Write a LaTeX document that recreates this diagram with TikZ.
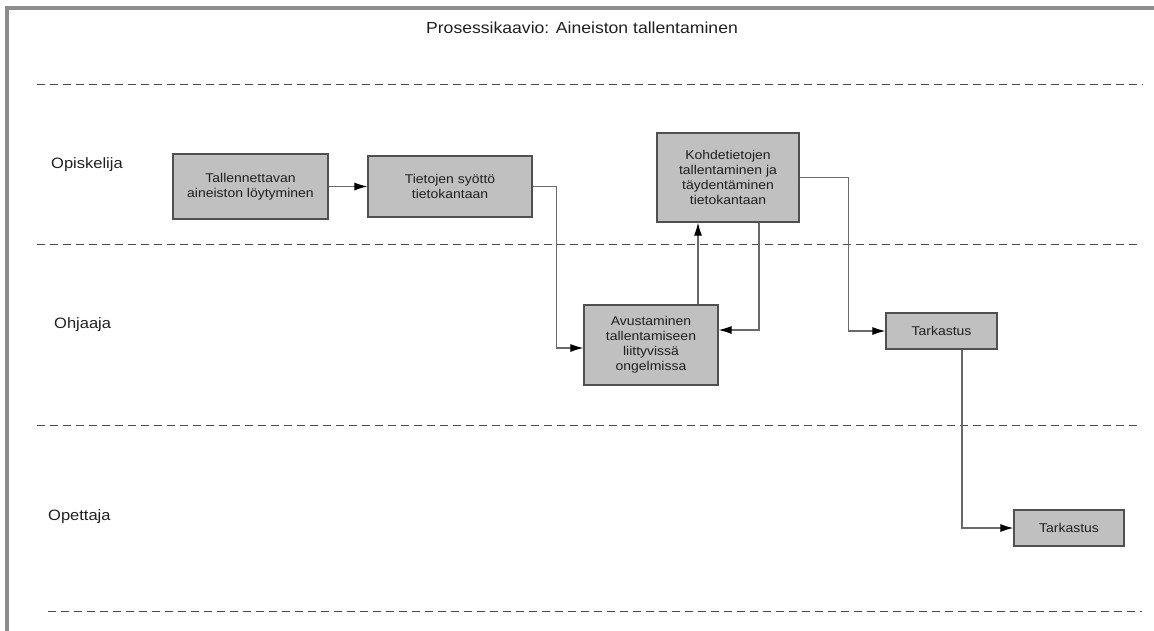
\documentclass[tikz,border=0pt]{standalone}
\usepackage{fontspec}
\setmainfont{Liberation Sans}[FakeStretch=1.1]
\usetikzlibrary{arrows.meta}
\definecolor{boxfill}{HTML}{C0C0C0}
\definecolor{boxline}{HTML}{505050}
\definecolor{wire}{HTML}{6A6A6A}
\definecolor{frame}{HTML}{8C8C8C}
\definecolor{lane}{HTML}{4A4A4A}
\definecolor{ink}{HTML}{202020}
\tikzset{
  stepbox/.style={draw=boxline, fill=boxfill, line width=1.2pt, inner sep=0pt,
    align=center, text=ink, font=\fontsize{12.7}{15}\selectfont},
  lanelabel/.style={anchor=west, inner sep=0pt, text=ink, font=\fontsize{15}{18}\selectfont},
  lanerule/.style={draw=lane, line width=1pt, dash pattern=on 8pt off 5pt},
  wireline/.style={draw=wire, line width=1.1pt,
    -{Latex[length=13pt,width=8pt,fill=black,color=black]}},
}
\begin{document}
\begin{tikzpicture}[x=1pt, y=-1pt]
\useasboundingbox (0,0) rectangle (1154,630);
% outer frame (top and left edge)
\draw[frame, line width=4pt] (7,632) -- (7,8) -- (1156,8);
% title
\node[inner sep=0pt, text=ink, font=\fontsize{16}{19}\selectfont] (title) at (582,28)
  {Prosessikaavio: Aineiston tallentaminen};
% swimlane separators
\draw[lanerule] (37,84) -- (1143,84);
\draw[lanerule] (37,244) -- (1142,244);
\draw[lanerule] (37,425) -- (1142,425);
\draw[lanerule] (48,611) -- (1142,611);
% lane names
\node[lanelabel] (l1) at (51,165) {Opiskelija};
\node[lanelabel] (l2) at (54,325) {Ohjaaja};
\node[lanelabel] (l3) at (48,517) {Opettaja};
% process steps
\node[stepbox, minimum width=155pt, minimum height=65pt] (b1) at (250.5,186.5)
  {Tallennettavan\\aineiston löytyminen};
\node[stepbox, minimum width=164pt, minimum height=61pt] (b2) at (450,186.5)
  {Tietojen syöttö\\tietokantaan};
\node[stepbox, minimum width=134pt, minimum height=80pt] (b3) at (651,345)
  {Avustaminen\\tallentamiseen\\liittyvissä\\ongelmissa};
\node[stepbox, minimum width=142pt, minimum height=89pt] (b4) at (728,177.5)
  {Kohdetietojen\\tallentaminen ja\\täydentäminen\\tietokantaan};
\node[stepbox, minimum width=111pt, minimum height=36pt] (t1) at (941.5,331)
  {Tarkastus};
\node[stepbox, minimum width=110pt, minimum height=36pt] (t2) at (1069,528)
  {Tarkastus};
% flow
\draw[wireline] (b1.east) -- (b2.west);
\draw[wireline] (b2.east) -- ++(24,0) |- ([yshift=-3pt]b3.west);
\draw[wireline] ([xshift=47pt]b3.north) -- ([xshift=47pt]b3.north |- b4.south);
\draw[wireline] ([xshift=31pt]b4.south) |- ([yshift=15pt]b3.east);
\draw[wireline] (b4.east) -- ++(49,0) |- (t1.west);
\draw[wireline] ([xshift=20.5pt]t1.south) |- (t2.west);
\end{tikzpicture}
\end{document}
